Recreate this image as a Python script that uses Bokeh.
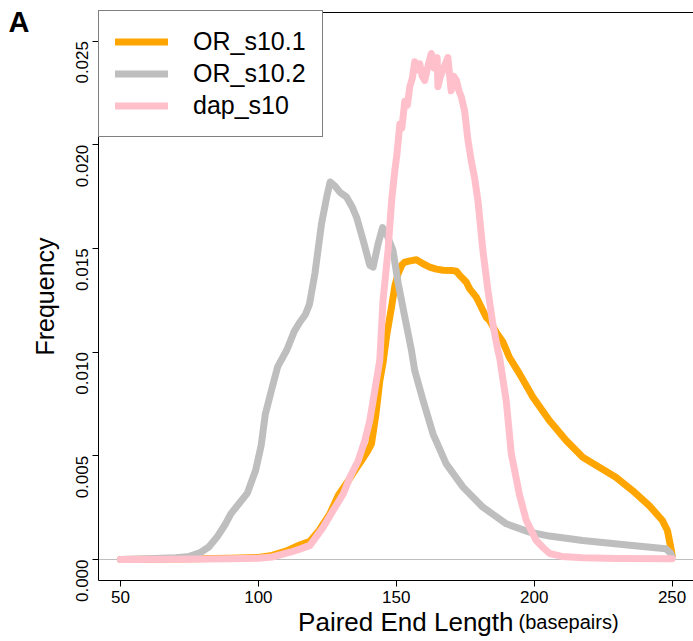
import math
from bokeh.plotting import figure
from bokeh.models import (Label, FixedTicker, PrintfTickFormatter, LinearAxis,
                          Range1d, Legend, LegendItem, ColumnDataSource)
from bokeh.embed import file_html
from bokeh.resources import INLINE

# ---- data ----
or1_len = [50, 70, 90, 100, 105, 110, 115, 118.7, 122, 125.9, 129, 132.6, 135, 137.4,
           139.5, 141, 142.6, 144, 145.2, 146.5, 148.3, 149.5, 150.7, 152, 153.1, 155,
           157.3, 159.7, 162.1, 164.5, 167, 170.5, 171.8, 173, 175.4, 176.6, 179, 180.2,
           182.6, 183.8, 186.5, 188.6, 191, 194.7, 199.5, 205.5, 211.6, 217.6, 223.6,
           229.6, 235.6, 241.7, 246.5, 248.3, 249.5, 250]
or1_freq = [0.0, 0.00002, 0.00006, 0.0001, 0.0002, 0.0004, 0.0007, 0.00088, 0.0014, 0.0022,
            0.0031, 0.0038, 0.0043, 0.00477, 0.0052, 0.00558, 0.0070, 0.0086, 0.0095, 0.0108,
            0.0122, 0.0132, 0.0138, 0.0142, 0.01434, 0.0144, 0.01445, 0.01426, 0.0141, 0.0140,
            0.01395, 0.01393, 0.0139, 0.0137, 0.01337, 0.01305, 0.01265, 0.01233, 0.01168,
            0.01152, 0.0109, 0.0105, 0.00975, 0.00895, 0.00783, 0.0067, 0.00574, 0.00493,
            0.00445, 0.00397, 0.00333, 0.0026, 0.00188, 0.0014, 0.0006, 0.0002]

or2_len = [50, 60, 70, 75, 79, 82, 85, 88, 90, 93, 96, 99, 101, 102.5, 105, 107, 110.3,
           113, 115, 117, 118.5, 120.5, 122.9, 124.8, 126, 127.8, 129.6, 132, 134, 135.6,
           138, 140.4, 141.6, 143.4, 145, 146.5, 148.8, 150.7, 153.1, 155.5, 156.7, 159.7,
           163.3, 168.1, 174.2, 181.4, 189.9, 198.3, 205.5, 217.6, 235.6, 247.7, 249.5, 250]
or2_freq = [0.0, 0.00003, 0.00008, 0.00015, 0.00034, 0.0006, 0.00108, 0.0017, 0.0022, 0.0027,
            0.0032, 0.0043, 0.0055, 0.0070, 0.0083, 0.0093, 0.0101, 0.0110, 0.01144, 0.0118,
            0.0123, 0.0138, 0.0162, 0.0175, 0.0182, 0.0180, 0.0177, 0.01747, 0.0170, 0.0165,
            0.01538, 0.01418, 0.0141, 0.01522, 0.0160, 0.0157, 0.0149, 0.0133, 0.01168,
            0.01008, 0.0091, 0.00767, 0.00606, 0.00461, 0.00349, 0.00252, 0.00172, 0.00132,
            0.00113, 0.00092, 0.00068, 0.00052, 0.0003, 0.0001]

dap_len = [50, 70, 90, 100, 105, 111.5, 115, 118.7, 121, 123.5, 127.1, 130.8, 133.2, 136.2,
           138.6, 140.4, 141.6, 142.8, 144, 145.2, 147, 148.3, 149.5, 150.2, 151.3, 152,
           153.1, 154, 154.9, 155.8, 156.7, 157.6, 158.5, 159.4, 160.3, 161.5, 162.7, 163.7,
           164.8, 165.1, 166, 166.9, 167.8, 168.7, 169.9, 170.8, 171.8, 172.7, 173.6, 174.8,
           176, 177.2, 178.4, 179.6, 181.4, 183.2, 185, 186.8, 187.5, 189.9, 191.7, 194.7,
           197.1, 200.7, 203.1, 205.5, 210, 217.6, 230, 250]
dap_freq = [0.0, 0.00001, 0.00003, 0.00006, 0.00012, 0.00035, 0.0005, 0.00068, 0.0011,
            0.00156, 0.00236, 0.00317, 0.00397, 0.00477, 0.00574, 0.0067, 0.00767, 0.00863,
            0.0096, 0.0125, 0.0149, 0.0173, 0.0188, 0.0195, 0.0210, 0.0208, 0.0221, 0.0219,
            0.0228, 0.0232, 0.0240, 0.0236, 0.0239, 0.0233, 0.0231, 0.0238, 0.0244, 0.0237,
            0.0242, 0.0228, 0.0233, 0.0236, 0.0239, 0.0242, 0.0226, 0.0233, 0.0231, 0.0226,
            0.0223, 0.0216, 0.0202, 0.0192, 0.0184, 0.0173, 0.0149, 0.0130, 0.01136, 0.0101,
            0.0097, 0.0076, 0.0051, 0.0031, 0.0019, 0.00092, 0.00059, 0.0003, 0.00015,
            0.00008, 0.00005, 0.00004]

series_names = ["OR_s10.1", "OR_s10.2", "dap_s10"]
series_colors = ["#FFA500", "#BEBEBE", "#FFC0CB"]
x_ticks = [50, 100, 150, 200, 250]
y_ticks = [0.0, 0.005, 0.010, 0.015, 0.020, 0.025]

FONT = "Liberation Sans"

# plotting box (R style) in data units; the frame covers the whole canvas
BOX_X = (42.02, 257.76)
BOX_Y = (-0.0010125, 0.026374)

p = figure(width=693, height=641,
           x_range=Range1d(6.49, 257.76), y_range=Range1d(-0.003954, 0.026953),
           output_backend="svg", toolbar_location=None,
           min_border_left=0, min_border_right=0, min_border_top=0, min_border_bottom=0,
           outline_line_color=None, background_fill_color="white",
           border_fill_color="white")
p.grid.visible = False

xa = p.xaxis[0]
ya = p.yaxis[0]
for ax in (xa, ya):
    ax.axis_line_color = "black"
    ax.axis_line_width = 1
    ax.major_tick_line_color = "black"
    ax.major_tick_in = 0
    ax.major_tick_out = 6
    ax.minor_tick_line_color = None
    ax.major_label_text_font = FONT
    ax.major_label_text_font_size = "17px"
    ax.major_label_text_color = "black"

xa.fixed_location = BOX_Y[0]
xa.bounds = BOX_X
xa.ticker = FixedTicker(ticks=x_ticks)
xa.major_label_standoff = 5

ya.fixed_location = BOX_X[0]
ya.bounds = BOX_Y
ya.ticker = FixedTicker(ticks=y_ticks)
ya.formatter = PrintfTickFormatter(format="%.3f")
ya.major_label_orientation = math.pi / 2
ya.major_label_standoff = 10
ya.axis_label = "Frequency"
ya.axis_label_text_font = FONT
ya.axis_label_text_font_size = "25px"
ya.axis_label_text_font_style = "normal"
ya.axis_label_text_color = "black"
ya.axis_label_standoff = 9

# top edge of the box
top_axis = LinearAxis(ticker=FixedTicker(ticks=[]), fixed_location=BOX_Y[1], bounds=BOX_X,
                      axis_line_color="black", major_tick_line_color=None,
                      minor_tick_line_color=None, major_label_text_font_size="0px")
p.add_layout(top_axis, "above")

# thin grey reference line at zero
zero_axis = LinearAxis(ticker=FixedTicker(ticks=[]), fixed_location=0, bounds=BOX_X,
                       axis_line_color="#BEBEBE", axis_line_width=1,
                       major_tick_line_color=None, minor_tick_line_color=None,
                       major_label_text_font_size="0px", level="underlay")
p.add_layout(zero_axis, "below")

renderers = []
for xs, ys, c in ((or1_len, or1_freq, series_colors[0]),
                  (or2_len, or2_freq, series_colors[1]),
                  (dap_len, dap_freq, series_colors[2])):
    src = ColumnDataSource(dict(x=xs, y=ys))
    r = p.line("x", "y", source=src, line_color=c, line_width=7,
               line_cap="round", line_join="round")
    renderers.append(r)

legend = Legend(items=[LegendItem(label=n, renderers=[r]) for n, r in zip(series_names, renderers)],
                location=(98, 504), margin=0, padding=16, spacing=3,
                glyph_width=53, glyph_height=29, label_height=29, label_standoff=25,
                label_text_font=FONT, label_text_font_size="25px", label_text_color="black",
                border_line_color="black", border_line_width=1,
                background_fill_color="white", background_fill_alpha=1.0)
p.add_layout(legend)

# x axis title (two sizes, as in the reference)
p.add_layout(Label(x=192.49, y=-0.00299,
                   text="Paired End Length", text_font=FONT, text_font_size="26px",
                   text_align="right", text_baseline="alphabetic", text_color="black"))
p.add_layout(Label(x=194.31, y=-0.00299,
                   text="(basepairs)", text_font=FONT, text_font_size="20px",
                   text_align="left", text_baseline="alphabetic", text_color="black"))

# panel letter
p.add_layout(Label(x=9.39, y=0.02594,
                   text="A", text_font=FONT, text_font_size="29px", text_font_style="bold",
                   text_align="left", text_baseline="alphabetic", text_color="black"))

open("out.html", "w").write(file_html(p, INLINE))
